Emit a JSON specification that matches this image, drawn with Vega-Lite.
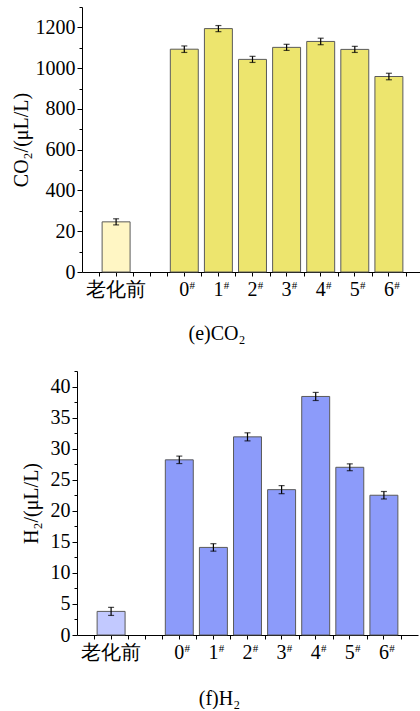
{
  "$schema": "https://vega.github.io/schema/vega-lite/v6.json",
  "padding": {"top": 6, "left": 11, "right": 0, "bottom": 0},
  "datasets": {
    "co2": [
      {"cat": "老化前", "v": 246, "e": 15},
      {"cat": "0#", "v": 1093, "e": 16},
      {"cat": "1#", "v": 1194, "e": 15},
      {"cat": "2#", "v": 1043, "e": 15},
      {"cat": "3#", "v": 1102, "e": 15},
      {"cat": "4#", "v": 1131, "e": 16},
      {"cat": "5#", "v": 1092, "e": 15},
      {"cat": "6#", "v": 959, "e": 16}
    ],
    "h2": [
      {"cat": "老化前", "v": 3.8, "e": 0.65},
      {"cat": "0#", "v": 28.2, "e": 0.6},
      {"cat": "1#", "v": 14.1, "e": 0.6},
      {"cat": "2#", "v": 31.9, "e": 0.65},
      {"cat": "3#", "v": 23.4, "e": 0.65},
      {"cat": "4#", "v": 38.4, "e": 0.65},
      {"cat": "5#", "v": 27.0, "e": 0.55},
      {"cat": "6#", "v": 22.5, "e": 0.6}
    ]
  },
  "vconcat": [
    {
      "width": 346,
      "height": 265,
      "title": {"text": "(e)CO₂", "orient": "bottom", "frame": "bounds", "anchor": "middle", "offset": 25},
      "data": {"name": "co2"},
      "layer": [
        {
          "mark": {"type": "bar", "width": {"band": 0.82}, "stroke": "#5a5a5a", "strokeWidth": 1},
          "encoding": {
            "x": {
              "field": "cat", "type": "nominal", "sort": null,
              "scale": {"type": "band", "domain": ["老化前", "gap", "0#", "1#", "2#", "3#", "4#", "5#", "6#"], "paddingInner": 0, "paddingOuter": 0.5, "range": [5, 346]},
              "axis": {"orient": "bottom", "title": null, "labelAngle": 0, "labelPadding": 3, "tickSize": 4,
                "labelExpr": "datum.value === 'gap' ? '' : replace(datum.value, '#', '')"}
            },
            "y": {
              "field": "v", "type": "quantitative",
              "scale": {"domain": [0, 1300], "nice": false},
              "axis": {"orient": "left", "offset": -5, "title": "CO₂/(μL/L)", "values": [0, 200, 400, 600, 800, 1000, 1200], "format": "d",
                "labelExpr": "datum.value === 200 ? '20' : datum.label", "tickSize": 5, "labelPadding": 2, "titlePadding": 4}
            },
            "fill": {"condition": {"test": "datum.cat === '老化前'", "value": "#FFF6C4"}, "value": "#EDE56E"}
          }
        },
        {
          "mark": {"type": "errorbar", "color": "black", "ticks": {"size": 6, "thickness": 1.2, "color": "black"}, "rule": {"strokeWidth": 1.2}},
          "encoding": {
            "x": {"field": "cat", "type": "nominal", "axis": null},
            "y": {"field": "v", "type": "quantitative", "axis": null},
            "yError": {"field": "e"}
          }
        },
        {
          "transform": [{"filter": "indexof(datum.cat, '#') >= 0"}],
          "mark": {"type": "text", "text": "#", "font": "Liberation Serif", "fontSize": 11, "dx": 8, "dy": 8, "baseline": "top", "align": "center", "color": "black"},
          "encoding": {
            "x": {"field": "cat", "type": "nominal", "axis": null},
            "y": {"datum": 0, "type": "quantitative", "axis": null}
          }
        },
        {
          "mark": {"type": "point", "opacity": 0},
          "encoding": {
            "x": {"field": "cat", "type": "nominal",
              "axis": {"orient": "top", "offset": -265, "tickBand": "extent", "labels": false, "domain": false, "title": null, "tickSize": -4}},
            "y": {"field": "v", "type": "quantitative",
              "axis": {"orient": "left", "offset": -5, "values": [100, 300, 500, 700, 900, 1100, 1300], "labels": false, "domain": false, "title": null, "tickSize": 3}}
          }
        }
      ],
      "resolve": {"axis": {"x": "independent", "y": "independent"}}
    },
    {
      "width": 341,
      "height": 264,
      "title": {"text": "(f)H₂", "orient": "bottom", "frame": "bounds", "anchor": "middle", "offset": 27},
      "data": {"name": "h2"},
      "layer": [
        {
          "mark": {"type": "bar", "width": {"band": 0.82}, "stroke": "#5a5a5a", "strokeWidth": 1},
          "encoding": {
            "x": {
              "field": "cat", "type": "nominal", "sort": null,
              "scale": {"type": "band", "domain": ["老化前", "gap", "0#", "1#", "2#", "3#", "4#", "5#", "6#"], "paddingInner": 0, "paddingOuter": 0.5},
              "axis": {"orient": "bottom", "title": null, "labelAngle": 0, "labelPadding": 3, "tickSize": 4,
                "labelExpr": "datum.value === 'gap' ? '' : replace(datum.value, '#', '')"}
            },
            "y": {
              "field": "v", "type": "quantitative",
              "scale": {"domain": [0, 42.5], "nice": false},
              "axis": {"orient": "left", "title": "H₂/(μL/L)", "values": [0, 5, 10, 15, 20, 25, 30, 35, 40], "format": "d",
                "tickSize": 5, "labelPadding": 2, "titlePadding": 9}
            },
            "fill": {"condition": {"test": "datum.cat === '老化前'", "value": "#C2C9FF"}, "value": "#8C9BFA"}
          }
        },
        {
          "mark": {"type": "errorbar", "color": "black", "ticks": {"size": 6, "thickness": 1.2, "color": "black"}, "rule": {"strokeWidth": 1.2}},
          "encoding": {
            "x": {"field": "cat", "type": "nominal", "axis": null},
            "y": {"field": "v", "type": "quantitative", "axis": null},
            "yError": {"field": "e"}
          }
        },
        {
          "transform": [{"filter": "indexof(datum.cat, '#') >= 0"}],
          "mark": {"type": "text", "text": "#", "font": "Liberation Serif", "fontSize": 11, "dx": 8, "dy": 8, "baseline": "top", "align": "center", "color": "black"},
          "encoding": {
            "x": {"field": "cat", "type": "nominal", "axis": null},
            "y": {"datum": 0, "type": "quantitative", "axis": null}
          }
        },
        {
          "mark": {"type": "point", "opacity": 0},
          "encoding": {
            "x": {"field": "cat", "type": "nominal",
              "axis": {"orient": "top", "offset": -264, "tickBand": "extent", "labels": false, "domain": false, "title": null, "tickSize": -4}},
            "y": {"field": "v", "type": "quantitative",
              "axis": {"orient": "left", "values": [2.5, 7.5, 12.5, 17.5, 22.5, 27.5, 32.5, 37.5, 42.5], "labels": false, "domain": false, "title": null, "tickSize": 3}}
          }
        }
      ],
      "resolve": {"axis": {"x": "independent", "y": "independent"}}
    }
  ],
  "spacing": 26,
  "config": {
    "view": {"stroke": null},
    "axis": {
      "grid": false, "domainColor": "black", "tickColor": "black", "labelColor": "black", "titleColor": "black",
      "labelFont": "Liberation Serif", "titleFont": "Liberation Serif", "titleFontWeight": "normal",
      "labelFontSize": 20, "titleFontSize": 20, "domainWidth": 1, "tickWidth": 1
    },
    "title": {"font": "Liberation Serif", "fontSize": 20, "fontWeight": "normal", "color": "black"}
  }
}
